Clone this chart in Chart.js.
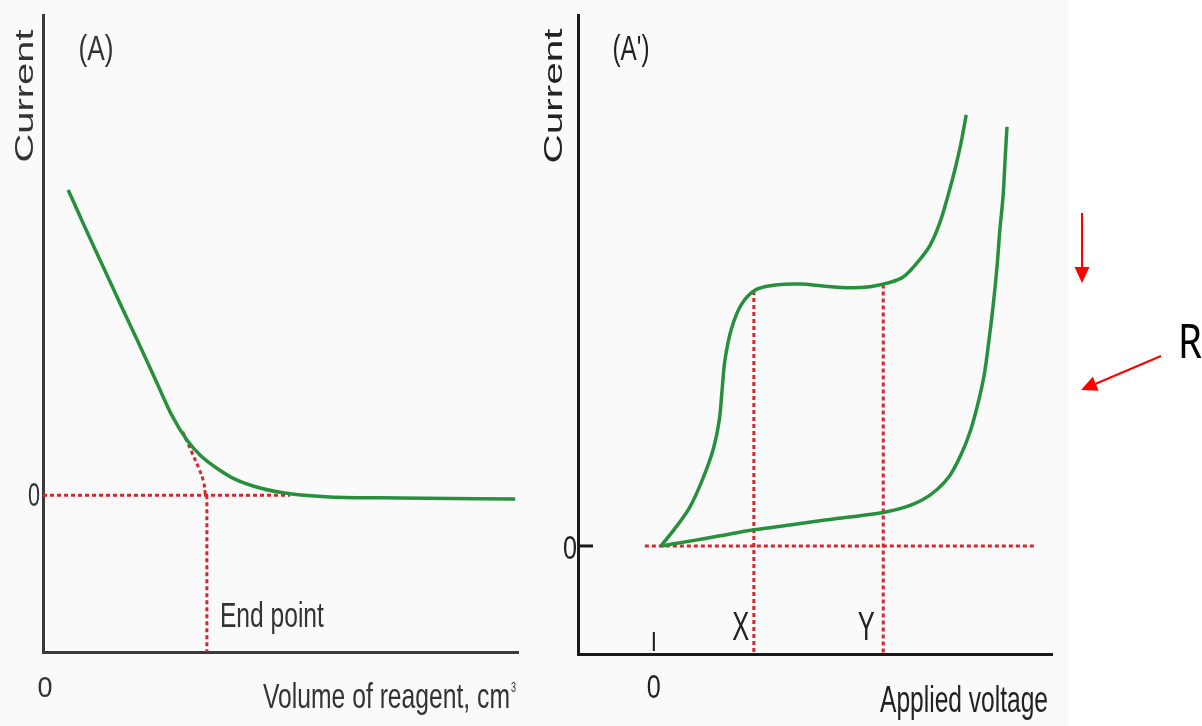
<!DOCTYPE html>
<html>
<head>
<meta charset="utf-8">
<script src="https://cdn.jsdelivr.net/npm/chart.js@4.4.1/dist/chart.umd.min.js"></script>
<style>
  html, body { margin: 0; padding: 0; background: #fff; }
  #wrap { position: relative; width: 1202px; height: 726px; overflow: hidden; }
  #bg { position: absolute; left: 0; top: 0; width: 1068px; height: 726px; background: #fafafa; }
  #cvA { position: absolute; left: 0; top: 0; width: 560px; height: 726px; }
  #cvB { position: absolute; left: 520px; top: 0; width: 682px; height: 726px; }
</style>
</head>
<body>
<div id="wrap">
  <div id="bg"></div>
  <canvas id="cvA" width="560" height="726"></canvas>
  <canvas id="cvB" width="682" height="726"></canvas>
</div>
<script>
// ── (A) corriente vs volumen de reactivo ──
var volA    = [0.53, 0.88, 1.24, 1.62, 2.00, 2.38, 2.72, 3.03, 3.31, 3.66, 4.04, 4.57, 5.20, 6.04, 7.52, 9.94];
var currA   = [5.85, 5.14, 4.43, 3.68, 2.94, 2.19, 1.52, 1.06, 0.77, 0.52, 0.31, 0.14, 0.03, -0.03, -0.05, -0.07];
var extrapX = [2.94, 3.11, 3.28, 3.38, 3.42];
var extrapY = [1.22, 0.87, 0.52, 0.26, 0.0];
var endPointX = 3.45;
var zeroEndA  = 5.2;

// ── (A') corriente vs voltaje aplicado ──
var voltUp  = [0.15, 0.45, 0.76, 1.04, 1.25, 1.38, 1.44, 1.50, 1.63, 1.84, 2.14, 2.56, 3.08, 3.61, 4.14, 4.56, 4.94, 5.26, 5.57, 5.83, 6.04, 6.21, 6.35, 6.48, 6.59];
var currUp  = [0, 0.33, 0.72, 1.26, 1.78, 2.33, 2.89, 3.44, 4.00, 4.46, 4.74, 4.83, 4.85, 4.81, 4.78, 4.80, 4.87, 4.98, 5.26, 5.57, 6.00, 6.50, 6.96, 7.46, 7.98];
var voltLow = [0.15, 0.76, 1.40, 2.11, 2.87, 3.61, 4.35, 4.89, 5.30, 5.66, 5.97, 6.25, 6.48, 6.67, 6.83, 6.97, 7.07, 7.16, 7.24, 7.30, 7.37, 7.41, 7.45];
var currLow = [0, 0.09, 0.19, 0.30, 0.39, 0.48, 0.56, 0.63, 0.72, 0.85, 1.04, 1.31, 1.69, 2.11, 2.61, 3.17, 3.81, 4.46, 5.17, 5.85, 6.50, 7.15, 7.76];
var xVolt = 2.11, xCurr = 4.72;
var yVolt = 4.84, yCurr = 4.84;
var zeroStartB = -0.19, zeroEndB = 8.08;

var GREEN = '#27903d';
var RED = '#d8262c';
var FONT = '"Liberation Sans", Arial, sans-serif';

function pts(xs, ys) { return xs.map(function (x, i) { return { x: x, y: ys[i] }; }); }

// texto con ancho forzado (la figura original está comprimida en horizontal)
function txt(ctx, s, x, y, size, w, align, color, font) {
  ctx.save();
  ctx.font = size + 'px ' + (font || FONT);
  ctx.fillStyle = color || '#333';
  ctx.textBaseline = 'alphabetic';
  ctx.textAlign = align || 'left';
  var m = ctx.measureText(s).width;
  ctx.translate(x, y);
  ctx.scale(w / m, 1);
  ctx.fillText(s, 0, 0);
  ctx.restore();
}
function vtxt(ctx, s, x, cy, size, len, color) {
  ctx.save();
  ctx.font = size + 'px ' + FONT;
  ctx.fillStyle = color || '#333';
  ctx.textBaseline = 'alphabetic';
  ctx.textAlign = 'center';
  var m = ctx.measureText(s).width;
  ctx.translate(x, cy);
  ctx.rotate(-Math.PI / 2);
  ctx.scale(len / m, 1);
  ctx.fillText(s, 0, 0);
  ctx.restore();
}
function arrow(ctx, x1, y1, x2, y2) {
  var a = Math.atan2(y2 - y1, x2 - x1), hl = 16, hw = 7.5;
  ctx.save();
  ctx.strokeStyle = '#ff0000'; ctx.fillStyle = '#ff0000'; ctx.lineWidth = 2;
  ctx.beginPath(); ctx.moveTo(x1, y1);
  ctx.lineTo(x2 - hl * Math.cos(a), y2 - hl * Math.sin(a)); ctx.stroke();
  ctx.beginPath(); ctx.moveTo(x2, y2);
  ctx.lineTo(x2 - hl * Math.cos(a) + hw * Math.sin(a), y2 - hl * Math.sin(a) - hw * Math.cos(a));
  ctx.lineTo(x2 - hl * Math.cos(a) - hw * Math.sin(a), y2 - hl * Math.sin(a) + hw * Math.cos(a));
  ctx.closePath(); ctx.fill();
  ctx.restore();
}

function greenSet(d, mono) {
  return { data: d, borderColor: GREEN, borderWidth: 3.5, order: 0,
    tension: 0.35, cubicInterpolationMode: mono ? 'monotone' : 'default' };
}
function redSet(d, smooth) {
  return { data: d, borderColor: RED, borderWidth: 3, borderDash: [4, 3], order: 1, tension: smooth ? 0.4 : 0 };
}
function axis(min, max, col) {
  return { type: 'linear', min: min, max: max,
    grid: { display: false, drawTicks: false },
    border: { display: true, color: col, width: 3 },
    ticks: { display: false } };
}
function baseOpts(pad, xs, ys) {
  return {
    responsive: false, animation: false, events: [],
    layout: { padding: pad },
    plugins: { legend: { display: false }, tooltip: { enabled: false } },
    elements: { point: { radius: 0 } },
    scales: { x: xs, y: ys }
  };
}

var labelsA = {
  id: 'labelsA',
  afterDraw: function (c) {
    var ctx = c.ctx, x = c.scales.x, y = c.scales.y;
    vtxt(ctx, 'Current', 33, 96, 26, 133, '#333');
    txt(ctx, '(A)', 96, 60, 35, 35, 'center');
    txt(ctx, '0', 34, y.getPixelForValue(0) + 11, 34, 12, 'center');
    txt(ctx, '0', 45, 697, 30, 15, 'center');
    txt(ctx, 'End point', x.getPixelForValue(endPointX) + 13, 627, 35, 104);
    txt(ctx, 'Volume of reagent, cm', 263, 708, 35, 247);
    txt(ctx, '3', 511, 692, 14, 5);
  }
};

var labelsB = {
  id: 'labelsB',
  afterDraw: function (c) {
    var ctx = c.ctx, x = c.scales.x, y = c.scales.y;
    var y0 = y.getPixelForValue(0), x0 = x.getPixelForValue(0);
    vtxt(ctx, 'Current', 42, 96, 26, 135, '#222');
    txt(ctx, "(A')", 111, 60, 35, 37, 'center', '#222');
    // marcas de eje
    ctx.save();
    ctx.strokeStyle = '#1a1a1a'; ctx.lineWidth = 3;
    ctx.beginPath(); ctx.moveTo(c.chartArea.left, y0); ctx.lineTo(c.chartArea.left + 15, y0); ctx.stroke();
    ctx.lineWidth = 2;
    ctx.beginPath(); ctx.moveTo(x0, c.chartArea.bottom - 22); ctx.lineTo(x0, c.chartArea.bottom - 3); ctx.stroke();
    ctx.restore();
    txt(ctx, '0', 50, y0 + 13, 34, 14, 'center', '#222');
    txt(ctx, '0', x0, 698, 33, 14, 'center', '#222');
    txt(ctx, 'X', x.getPixelForValue(xVolt) - 13, 640, 40, 17, 'center', '#222');
    txt(ctx, 'Y', x.getPixelForValue(yVolt) - 17, 640, 40, 17, 'center', '#222');
    txt(ctx, 'Applied voltage', 360, 712, 36, 168, 'left', '#222');
    // anotaciones en rojo
    arrow(ctx, 562, 213, 562, 283);
    arrow(ctx, 641, 356, 561, 390);
    txt(ctx, 'R', 658, 358, 48, 24, 'left', '#000', '"Noto Sans", "Open Sans", sans-serif');
  }
};

new Chart(document.getElementById('cvA'), {
  type: 'line',
  data: { datasets: [
    greenSet(pts(volA, currA), true),
    redSet(pts(extrapX, extrapY), true),
    redSet([{ x: 0, y: 0 }, { x: zeroEndA, y: 0 }]),
    redSet([{ x: endPointX, y: 0 }, { x: endPointX, y: -3 }])
  ] },
  options: baseOpts({ left: 43, right: 42, top: 15, bottom: 74 },
    axis(0, 10, '#3a3a3a'), axis(-3, 9.2, '#3a3a3a')),
  plugins: [labelsA]
});

new Chart(document.getElementById('cvB'), {
  type: 'line',
  data: { datasets: [
    greenSet(pts(voltUp, currUp)),
    greenSet(pts(voltLow, currLow)),
    redSet([{ x: zeroStartB, y: 0 }, { x: zeroEndB, y: 0 }]),
    redSet([{ x: xVolt, y: xCurr }, { x: xVolt, y: -2 }]),
    redSet([{ x: yVolt, y: yCurr }, { x: yVolt, y: -2 }])
  ] },
  options: baseOpts({ left: 58, right: 150, top: 15, bottom: 72 },
    axis(-1.6, 8.4, '#1a1a1a'), axis(-2, 9.83, '#1a1a1a')),
  plugins: [labelsB]
});
</script>
</body>
</html>
